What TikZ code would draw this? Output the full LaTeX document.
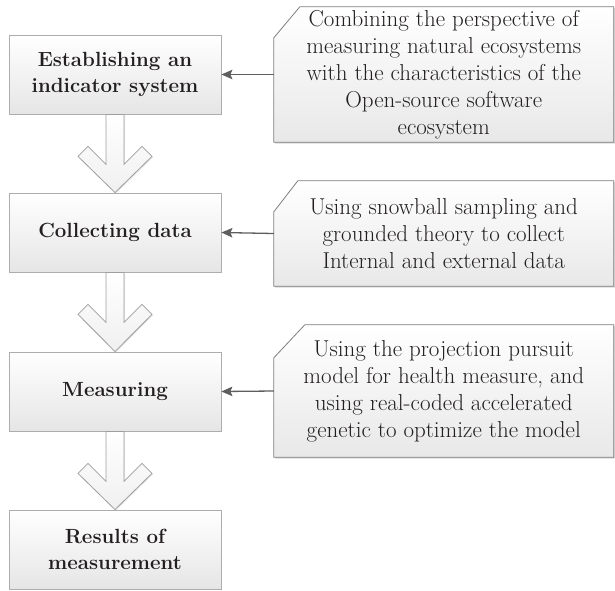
\documentclass[tikz,border=0pt]{standalone}
\usetikzlibrary{shadows,calc,arrows.meta}
\definecolor{ink}{HTML}{231F20}
\definecolor{edgeL}{HTML}{ADADAD}
\definecolor{edgeA}{HTML}{9E9E9E}
\definecolor{edgeR}{HTML}{7F7F7F}
\definecolor{linkgray}{HTML}{5E5E5E}
\pgfdeclarelayer{back}
\pgfsetlayers{back,main}
\begin{document}
\begin{tikzpicture}[x=1pt,y=-1pt,
  softshadow/.style={drop shadow={shadow xshift=1.3pt,shadow yshift=-1.3pt,opacity=.22,fill=black!70}},
  stepbox/.style={draw=edgeL,line width=0.8pt,top color=white,bottom color=black!10,
    minimum width=212pt,minimum height=79pt,inner sep=0pt,align=center,
    font=\fontsize{20.5}{26}\selectfont\bfseries,text=ink,softshadow},
  notebox/.style={minimum width=339.5pt,inner sep=0pt,align=center,
    font=\fontsize{23}{27}\selectfont,text=ink},
  noteframe/.style={draw=edgeR,line width=0.8pt,top color=white,bottom color=black!9,softshadow},
  flowarrow/.style={draw=edgeA,line width=0.8pt,top color=white,bottom color=black!6,line join=miter,
    drop shadow={shadow xshift=1pt,shadow yshift=-1pt,opacity=.15,fill=black!60}},
  link/.style={draw=linkgray,line width=1.3pt,-{Stealth[length=11pt,width=9.5pt,inset=2pt]}}]
\useasboundingbox (0,0) rectangle (615,590);

% main steps
\node[stepbox] (b1) at (115,74.5) {Establishing an\\indicator system};
\node[stepbox] (b2) at (115,232.5) {Collecting data};
\node[stepbox] (b3) at (115,391.5) {Measuring};
\node[stepbox] (b4) at (115,549.5) {Results of\\measurement};

% notes on the right
\node[notebox,minimum height=135pt] (r1) at (443.75,74.5)
  {Combining the perspective of\\measuring natural ecosystems\\with the characteristics of the\\Open-source software\\ecosystem};
\node[notebox,minimum height=105pt] (r2) at (443.75,233.5)
  {Using snowball sampling and\\grounded theory to collect\\Internal and external data};
\node[notebox,minimum height=132pt] (r3) at (443.75,391)
  {Using the projection pursuit\\model for health measure, and\\using real-coded accelerated\\genetic to optimize the model};

% note frames with a cut top-left corner, behind the text
\begin{pgfonlayer}{back}
  \foreach \n/\cx/\cy in {r1/26/31,r2/24/31,r3/31/33}{
    \path[noteframe] (\n.south west) -- ($(\n.north west)+(0,\cy)$) -- ($(\n.north west)+(\cx,0)$)
      -- (\n.north east) -- (\n.south east) -- cycle;
  }
\end{pgfonlayer}

% hollow block arrows between the steps
\foreach \a/\b in {b1/b2,b2/b3,b3/b4}{
  \path[flowarrow] ($(\a.south)+(-9,0)$) -- ($(\a.south)+(-9,50)$) -- ($(\a.south)+(-27,32)$)
    -- ($(\a.south)+(-37,42)$) -- (\b.north) -- ($(\a.south)+(37,42)$)
    -- ($(\a.south)+(27,32)$) -- ($(\a.south)+(9,50)$) -- ($(\a.south)+(9,0)$) -- cycle;
}

% connectors from notes to steps
\draw[link] (r1.west) -- (b1.east);
\draw[link] (r2.west) -- (b2.east);
\draw[link] (r3.west) -- (b3.east);
\end{tikzpicture}
\end{document}
